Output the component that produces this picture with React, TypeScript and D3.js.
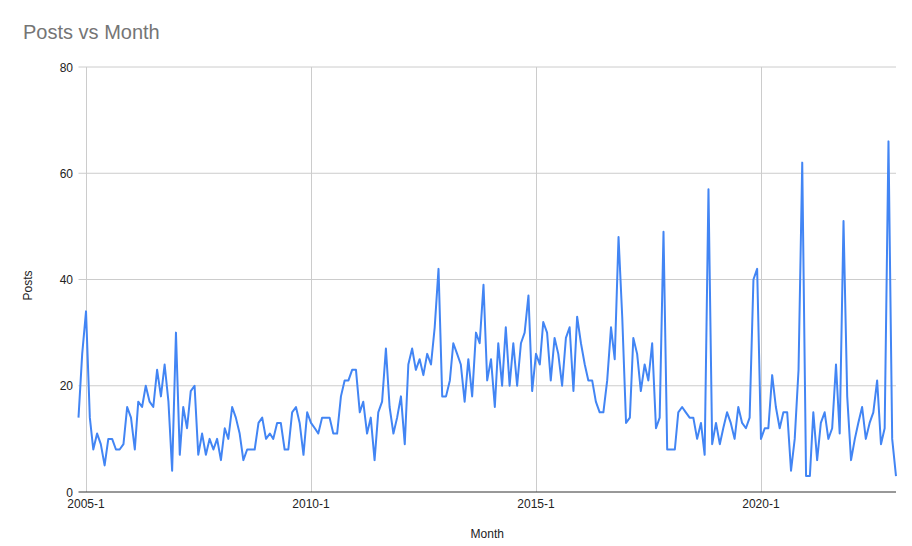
import React from "react";
import * as d3 from "d3";

const title = "Posts vs Month";
const xTitle = "Month";
const yTitle = "Posts";
const startMonth = new Date(2004, 10, 1);
const endMonth = new Date(2023, 0, 1);
const xTickDates = [new Date(2005, 0, 1), new Date(2010, 0, 1), new Date(2015, 0, 1), new Date(2020, 0, 1)];
const xTickLabels = ["2005-1", "2010-1", "2015-1", "2020-1"];
const yTicks = [0, 20, 40, 60, 80];
const posts = [
  14, 26, 34, 14, 8, 11, 9, 5, 10, 10, 8, 8, 9, 16, 14, 8, 17, 16, 20, 17, 16,
  23, 18, 24, 17, 4, 30, 7, 16, 12, 19, 20, 7, 11, 7, 10, 8, 10, 6,
  12, 10, 16, 14, 11, 6, 8, 8, 8, 13, 14, 10, 11, 10, 13, 13, 8, 8, 15, 16,
  13, 7, 15, 13, 12, 11, 14, 14, 14, 11, 11, 18, 21, 21, 23, 23, 15, 17,
  11, 14, 6, 15, 17, 27, 16, 11, 14, 18, 9, 24, 27, 23, 25, 22, 26, 24,
  31, 42, 18, 18, 21, 28, 26, 24, 17, 25, 18, 30, 28, 39, 21, 25, 16, 28, 20,
  31, 20, 28, 20, 28, 30, 37, 19, 26, 24, 32, 30, 21, 29, 26, 20, 29, 31, 19,
  33, 28, 24, 21, 21, 17, 15, 15, 21, 31, 25, 48, 33, 13, 14, 29, 26, 19, 24,
  21, 28, 12, 14, 49, 8, 8, 8, 15, 16, 15, 14, 14, 10, 13, 7, 57, 9, 13,
  9, 12, 15, 13, 10, 16, 13, 12, 14, 40, 42, 10, 12, 12, 22, 16, 12, 15,
  15, 4, 10, 23, 62, 3, 3, 15, 6, 13, 15, 10, 12, 24, 11, 51, 18, 6,
  10, 13, 16, 10, 13, 15, 21, 9, 12, 66, 10, 3,
];

const W = 912;
const H = 546;
const left = 78.5;
const right = 896;
const top = 67;
const bottom = 492;
const font = "Arial, 'Liberation Sans', sans-serif";

export default function App() {
  const months = d3.timeMonth.range(startMonth, d3.timeMonth.offset(startMonth, posts.length));
  const x = d3.scaleTime().domain([startMonth, endMonth]).range([left, right]);
  const y = d3.scaleLinear().domain([0, 80]).range([bottom, top]);
  const data = posts.map((v, i) => ({ d: months[i], v }));
  const line = d3
    .line<{ d: Date; v: number }>()
    .x((p) => x(p.d))
    .y((p) => y(p.v));

  return (
    <svg width={W} height={H} style={{ position: "absolute", left: 0, top: 0, background: "#fff" }}>
      <rect x={0} y={0} width={W} height={H} fill="#fff" />
      <text x={23} y={39} fontFamily={font} fontSize={20} fill="#757575">
        {title}
      </text>
      {yTicks.map((t) =>
        t === 0 ? null : (
          <line key={"gy" + t} x1={left} x2={right} y1={y(t)} y2={y(t)} stroke="#cccccc" strokeWidth={1} />
        )
      )}
      {xTickDates.map((d, i) => (
        <line key={"gx" + i} x1={Math.round(x(d)) + 0.5} x2={Math.round(x(d)) + 0.5} y1={top} y2={bottom} stroke="#cccccc" strokeWidth={1} />
      ))}
      <line x1={left} x2={right} y1={bottom} y2={bottom} stroke="#333333" strokeWidth={1} />
      <path d={line(data) || ""} fill="none" stroke="#4285f4" strokeWidth={2} strokeLinejoin="round" />
      {yTicks.map((t) => (
        <text key={"ty" + t} x={73} y={y(t) + 4.5} textAnchor="end" fontFamily={font} fontSize={12} fill="#222222">
          {t}
        </text>
      ))}
      {xTickDates.map((d, i) => (
        <text key={"tx" + i} x={x(d)} y={508} textAnchor="middle" fontFamily={font} fontSize={12} fill="#222222">
          {xTickLabels[i]}
        </text>
      ))}
      <text x={(left + right) / 2} y={538} textAnchor="middle" fontFamily={font} fontSize={12} fill="#222222">
        {xTitle}
      </text>
      <text
        transform={`translate(32, ${(top + bottom) / 2 + 6}) rotate(-90)`}
        textAnchor="middle"
        fontFamily={font}
        fontSize={12}
        fill="#222222"
      >
        {yTitle}
      </text>
    </svg>
  );
}
